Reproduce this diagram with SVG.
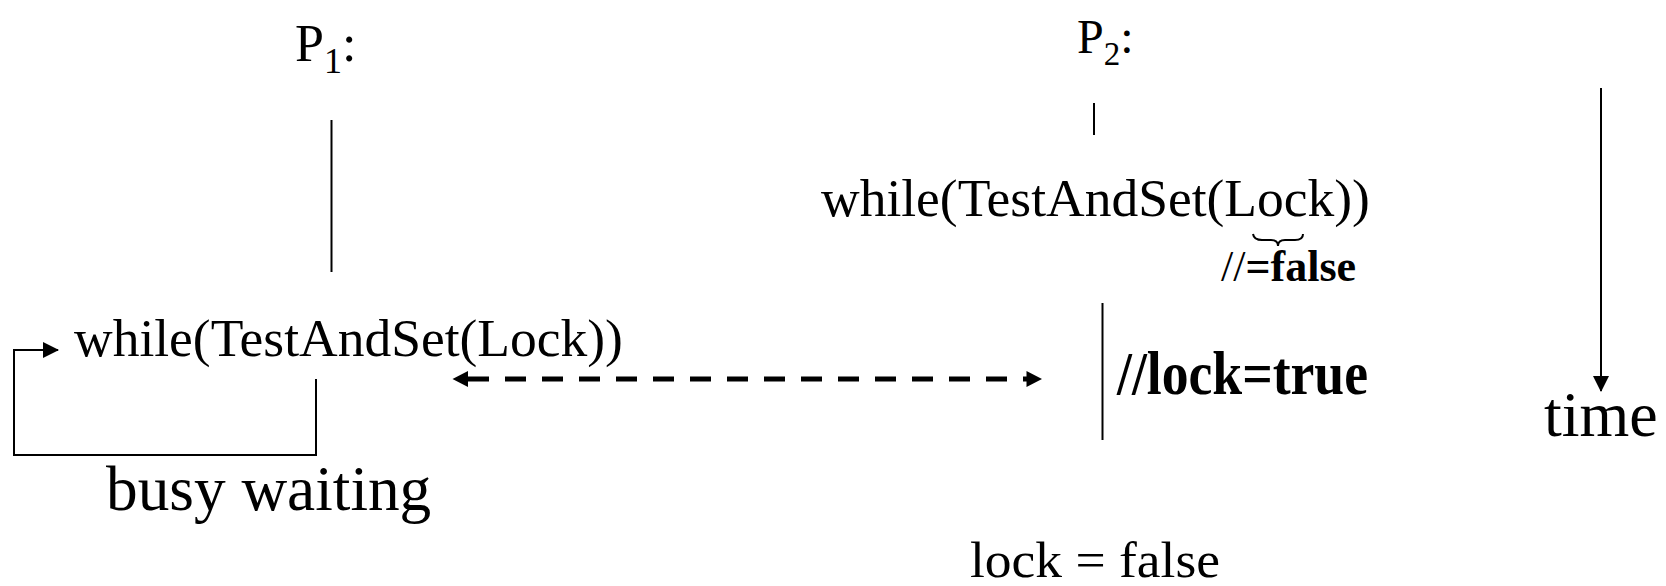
<svg xmlns="http://www.w3.org/2000/svg" width="1666" height="586" viewBox="0 0 1666 586">
<style>
.t{font-family:"Liberation Serif","Times New Roman",serif;fill:#000}
.b{font-weight:bold}
.ln{stroke:#000;stroke-width:2;fill:none}
</style>
<defs>
<marker id="ahs" markerWidth="16" markerHeight="16" refX="15" refY="8" orient="auto-start-reverse" markerUnits="userSpaceOnUse" viewBox="0 0 16 16">
<path d="M0,0 L16,8 L0,16 Z" fill="#000"/>
</marker>
</defs>
<rect width="1666" height="586" fill="#fff"/>
<g id="p1-label"><text class="t" x="295" y="61" font-size="52">P<tspan font-size="36" dy="12">1</tspan><tspan dy="-12">:</tspan></text></g>
<g id="p2-label"><text class="t" x="1077" y="53" font-size="48">P<tspan font-size="33" dy="12">2</tspan><tspan dy="-12">:</tspan></text></g>
<g id="p1-while"><text class="t" x="74" y="356" font-size="53.5">while(TestAndSet(Lock))</text></g>
<g id="busy-waiting"><text class="t" x="106" y="510" font-size="63.3">busy waiting</text></g>
<g id="p2-while"><text class="t" x="821" y="216" font-size="53.5">while(TestAndSet(Lock))</text></g>
<g id="brace"><path class="ln" stroke-width="3" d="M1253,234 Q1254,240 1262,240 L1271,240 Q1278,240 1278,246 Q1278,240 1285,240 L1295,240 Q1303,240 1303,234"/></g>
<g id="false-note"><text class="t" x="1221" y="281" font-size="44">//<tspan class="b">=false</tspan></text></g>
<g id="lock-true"><text class="t b" x="1117" y="394" font-size="62" textLength="251" lengthAdjust="spacingAndGlyphs">//lock=true</text></g>
<g id="lock-false"><text class="t" x="970" y="577" font-size="51" textLength="250" lengthAdjust="spacingAndGlyphs">lock = false</text></g>
<g id="time-label"><text class="t" x="1544" y="436" font-size="64">time</text></g>
<g id="connectors">
<line class="ln" x1="331.5" y1="120" x2="331.5" y2="272"/>
<line class="ln" x1="1094" y1="103" x2="1094" y2="135"/>
<line class="ln" x1="1102.5" y1="303" x2="1102.5" y2="440"/>
<line class="ln" x1="1601" y1="88" x2="1601" y2="391" marker-end="url(#ahs)"/>
<path class="ln" stroke-width="2.5" d="M316,379 L316,455 L14,455 L14,350 L58,350" marker-end="url(#ahs)"/>
<line stroke="#000" stroke-width="5" stroke-dasharray="21 16" x1="468" y1="379" x2="1027" y2="379"/>
<path d="M452.5,379 L468,371 L468,387 Z" fill="#000"/>
<path d="M1042,379 L1026.5,371 L1026.5,387 Z" fill="#000"/>
</g>
</svg>
